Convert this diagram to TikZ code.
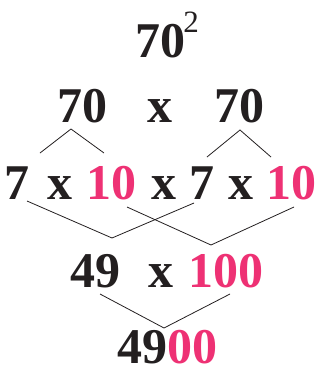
\documentclass[tikz,border=0pt]{standalone}
\usepackage{fontspec}
\setmainfont{Liberation Serif}
\definecolor{txt}{HTML}{231F20}
\definecolor{pk}{HTML}{EE3174}
\definecolor{ln}{HTML}{231F20}
\begin{document}
\begin{tikzpicture}[x=1pt,y=-1pt,
  big/.style={inner sep=0pt,anchor=base,text=txt,font=\fontsize{50}{50}\selectfont\bfseries},
  pink/.style={big,text=pk},
  sup/.style={inner sep=0pt,anchor=base,text=txt,font=\fontsize{31}{31}\selectfont},
  link/.style={draw=ln,line width=0.8pt}]
\useasboundingbox (0,0) rectangle (321,367);
% row 1
\node[big] (t70) at (160.5,57) {70};
\node[sup] (t2) at (191,32) {2};
% row 2
\node[big] (a70) at (82,122) {70};
\node[big] (ax) at (160,122) {x};
\node[big] (b70) at (239,122) {70};
% row 3
\node[big] (c7) at (17.5,199) {7};
\node[big] (cx1) at (60,199) {x};
\node[pink] (c10) at (111,199) {10};
\node[big] (cx2) at (164,199) {x};
\node[big] (d7) at (202,199) {7};
\node[big] (cx3) at (241,199) {x};
\node[pink] (d10) at (291.5,199) {10};
% row 4
\node[big] (e49) at (95,287) {49};
\node[big] (ex) at (160.5,287) {x};
\node[pink] (e100) at (226,287) {100};
% row 5
\node[big,text depth=0pt] (res) at (167.5,363) {49\textcolor{pk}{00}};
% connector points
\coordinate (p1) at (40,153); \coordinate (p2) at (71,129); \coordinate (p3) at (104,153);
\coordinate (q1) at (207,157); \coordinate (q2) at (240,130); \coordinate (q3) at (271,157);
\coordinate (r1) at (27,201); \coordinate (r2) at (112,238); \coordinate (r3) at (194,203);
\coordinate (s1) at (127,207); \coordinate (s2) at (211,245); \coordinate (s3) at (294,207);
\coordinate (u1) at (100,294); \coordinate (u2) at (164,328); \coordinate (u3) at (230,294);
\draw[link] (p1) -- (p2) -- (p3);
\draw[link] (q1) -- (q2) -- (q3);
\draw[link] (r1) -- (r2) -- (r3);
\draw[link] (s1) -- (s2) -- (s3);
\draw[link] (u1) -- (u2) -- (u3);
\end{tikzpicture}
\end{document}
